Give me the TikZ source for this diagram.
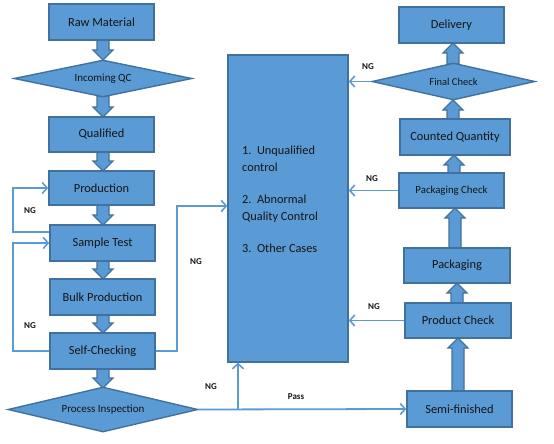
\documentclass[tikz,border=0pt]{standalone}
\usepackage{fontspec}
\setmainfont{Carlito}
\usetikzlibrary{shapes.geometric,arrows.meta,calc}
\definecolor{boxfill}{HTML}{5B9BD5}
\definecolor{boxline}{HTML}{41719C}
\definecolor{conn}{HTML}{5B9BD5}
\definecolor{txt}{HTML}{141414}
\tikzset{
  stepbox/.style={draw=boxline, line width=1.4pt, fill=boxfill, text=txt, inner sep=0pt, font=\fontsize{12.4}{14}\selectfont},
  decbox/.style={diamond, aspect=4, draw=boxline, line width=1.4pt, fill=boxfill, text=txt, inner sep=0pt, font=\fontsize{11}{13}\selectfont},
  ngline/.style={draw=conn, line width=1.8pt, -{Straight Barb[length=5pt,width=11pt,line width=1.6pt]}},
  lbl/.style={font=\bfseries\fontsize{9}{11}\selectfont, text=txt},
  blk/.style={fill=boxfill, draw=boxline, line width=1.2pt, line join=miter}
}
\newcommand\blkdown[2]{%
  \path[blk] let \p1=(#1), \p2=(#2) in
    (\x1-6pt,\y1) -- (\x1-6pt,\y2+10pt) -- (\x1-10pt,\y2+10pt) -- (\x1,\y2)
    -- (\x1+10pt,\y2+10pt) -- (\x1+6pt,\y2+10pt) -- (\x1+6pt,\y1) -- cycle;}
\newcommand\blkup[2]{%
  \path[blk] let \p1=(#1), \p2=(#2) in
    (\x1-6pt,\y1) -- (\x1-6pt,\y2-10pt) -- (\x1-10pt,\y2-10pt) -- (\x1,\y2)
    -- (\x1+10pt,\y2-10pt) -- (\x1+6pt,\y2-10pt) -- (\x1+6pt,\y1) -- cycle;}
\begin{document}
\begin{tikzpicture}[x=1pt,y=-1pt]
\useasboundingbox (0,0) rectangle (554,444);
% coordinates for block arrow ends
\coordinate (a1s) at (103,40);  \coordinate (a1e) at (103,60);
\coordinate (a2s) at (103,96);  \coordinate (a2e) at (103,117);
\coordinate (a3s) at (103,152); \coordinate (a3e) at (103,171);
\coordinate (a4s) at (103,205); \coordinate (a4e) at (103,225);
\coordinate (a5s) at (103,261); \coordinate (a5e) at (103,279);
\coordinate (a6s) at (103,315); \coordinate (a6e) at (103,333);
\coordinate (a7s) at (103,369); \coordinate (a7e) at (103,388);
\coordinate (b1s) at (458,391); \coordinate (b1e) at (458,338);
\coordinate (b2s) at (457,303); \coordinate (b2e) at (457,283);
\coordinate (b3s) at (455,248); \coordinate (b3e) at (455,208);
\coordinate (b4s) at (454,173); \coordinate (b4e) at (454,155);
\coordinate (b5s) at (453,119); \coordinate (b5e) at (453,100);
\coordinate (b6s) at (453,64);  \coordinate (b6e) at (453,43);
\blkdown{a1s}{a1e}\blkdown{a2s}{a2e}\blkdown{a3s}{a3e}\blkdown{a4s}{a4e}
\blkdown{a5s}{a5e}\blkdown{a6s}{a6e}\blkdown{a7s}{a7e}
\blkup{b1s}{b1e}\blkup{b2s}{b2e}\blkup{b3s}{b3e}\blkup{b4s}{b4e}
\blkup{b5s}{b5e}\blkup{b6s}{b6e}
% left column
\node[stepbox, minimum width=105pt, minimum height=36pt] (RM) at (101.5,22) {Raw Material};
\node[decbox, minimum width=178pt, minimum height=37pt] (IQC) at (103,78.5) {Incoming QC};
\node[stepbox, minimum width=105pt, minimum height=35pt] (QU) at (101.5,134.5) {Qualified};
\node[stepbox, minimum width=105pt, minimum height=34pt] (PR) at (101.5,188) {Production};
\node[stepbox, minimum width=105pt, minimum height=36pt] (ST) at (102.5,243) {Sample Test};
\node[stepbox, minimum width=105pt, minimum height=36pt] (BP) at (102.5,297) {Bulk Production};
\node[stepbox, minimum width=105pt, minimum height=36pt] (SC) at (102.5,351) {Self-Checking};
\node[decbox, minimum width=190pt, minimum height=45pt] (PI) at (103,409.5) {Process Inspection};
% central box
\node[stepbox, minimum width=120pt, minimum height=307pt] (CB) at (288,208.5) {};
\node[text=txt, align=left, anchor=north west, inner sep=0pt, font=\fontsize{12.3}{17}\selectfont] (CT) at (242,145.5)
  {1.\ \ Unqualified\\control\\[15pt]2.\ \ Abnormal\\Quality Control\\[15pt]3.\ \ Other Cases};
% right column
\node[stepbox, minimum width=105pt, minimum height=36pt] (DE) at (451.5,25) {Delivery};
\node[decbox, minimum width=163pt, minimum height=37pt, font=\fontsize{10.5}{12}\selectfont] (FC) at (453.5,81.5) {Final Check};
\node[stepbox, minimum width=110pt, minimum height=36pt] (CQ) at (455,137) {Counted Quantity};
\node[stepbox, minimum width=105pt, minimum height=35pt, font=\fontsize{10.8}{12}\selectfont] (PC) at (451.5,190.5) {Packaging Check};
\node[stepbox, minimum width=106pt, minimum height=35pt] (PK) at (457,265.5) {Packaging};
\node[stepbox, minimum width=106pt, minimum height=35pt] (PRC) at (458,320.5) {Product Check};
\node[stepbox, minimum width=105pt, minimum height=36pt] (SF) at (459.5,409) {Semi-finished};
% connectors
\draw[ngline] (ST.west |- 0,232) -| (13,188) -- (PR.west);
\draw[ngline] (SC.west) -| (13,243) -- (ST.west);
\draw[ngline] (SC.east) -| (177,206) -- (CB.west |- 0,206);
\draw[ngline] (PI.east) -- (SF.west);
\coordinate (J) at (238,409.5);
\draw[ngline] (J) -- (J |- CB.south);
\draw[ngline] (FC.west) -- (CB.east |- FC.west);
\draw[ngline] (PC.west) -- (CB.east |- PC.west);
\draw[ngline] (PRC.west) -- (CB.east |- PRC.west);
% labels
\node[lbl] (l1) at (30,211) {NG};
\node[lbl] (l2) at (30,326) {NG};
\node[lbl] (l3) at (196,262) {NG};
\node[lbl] (l4) at (211,387) {NG};
\node[lbl] (l5) at (296,397) {Pass};
\node[lbl] (l6) at (368,67) {NG};
\node[lbl] (l7) at (372,179) {NG};
\node[lbl] (l8) at (374,307) {NG};
\end{tikzpicture}
\end{document}
